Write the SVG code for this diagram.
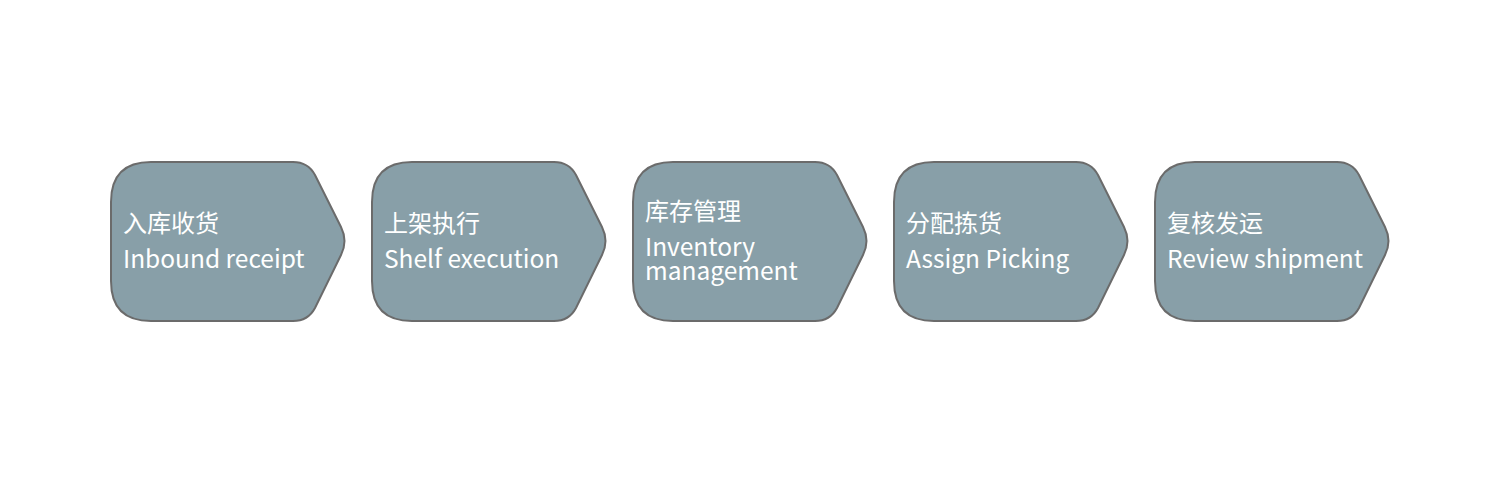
<svg xmlns="http://www.w3.org/2000/svg" width="1500" height="484" viewBox="0 0 1500 484">
<defs>
<style>
.box{fill:#889fa8;stroke:#6b6b6b;stroke-width:2}
.t{fill:#ffffff;font-family:"Noto Sans CJK SC","Noto Sans",sans-serif;font-size:24px}
.e{font-size:24.5px}
</style>
<path id="shape" d="M40,162 H182 Q197,162 204,175 L230,227 Q237,241 230,255 L204,308 Q197,321 182,321 H40 Q0,321 0,281 V202 Q0,162 40,162 Z"/>
</defs>
<rect width="1500" height="484" fill="#ffffff"/>
<g id="connectors"></g>
<g id="node1"><use href="#shape" x="111" class="box"/><text class="t" x="123" y="232">入库收货</text><text class="t e" x="123" y="268">Inbound receipt</text></g>
<g id="node2"><use href="#shape" x="372" class="box"/><text class="t" x="384" y="232">上架执行</text><text class="t e" x="384" y="268">Shelf execution</text></g>
<g id="node3"><use href="#shape" x="633" class="box"/><text class="t" x="645" y="220">库存管理</text><text class="t e" x="645" y="256">Inventory</text><text class="t e" x="645" y="280">management</text></g>
<g id="node4"><use href="#shape" x="894" class="box"/><text class="t" x="906" y="232">分配拣货</text><text class="t e" x="906" y="268">Assign Picking</text></g>
<g id="node5"><use href="#shape" x="1155" class="box"/><text class="t" x="1167" y="232">复核发运</text><text class="t e" x="1167" y="268">Review shipment</text></g>
</svg>
